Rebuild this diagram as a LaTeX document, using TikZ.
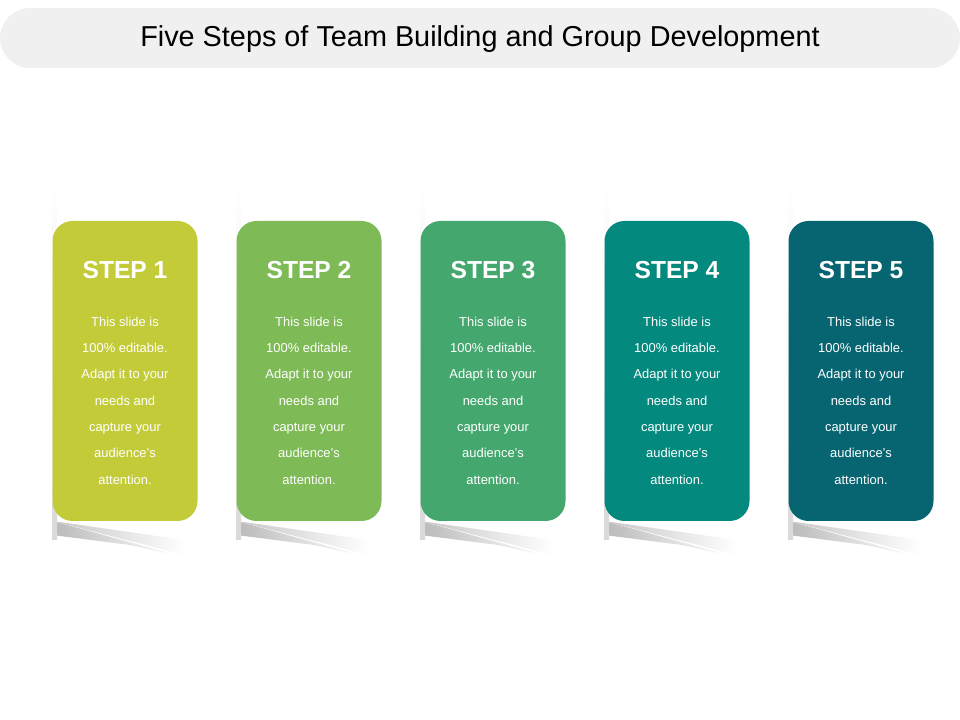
\documentclass[tikz,border=0pt]{standalone}
\usepackage{fontspec}
\setmainfont{Liberation Sans}
\definecolor{stepa}{HTML}{C3CC38}
\definecolor{stepb}{HTML}{7EBA55}
\definecolor{stepc}{HTML}{44A86E}
\definecolor{stepd}{HTML}{04897E}
\definecolor{stepe}{HTML}{076571}
\definecolor{titlebg}{HTML}{F0F0F0}
\tikzset{
  card/.style={rounded corners=20*0.025cm, minimum width=145*0.025cm, minimum height=300*0.025cm, inner sep=0pt},
  steptitle/.style={text=white, font=\fontsize{17.5}{20}\selectfont\bfseries},
  steptext/.style={text=white, align=center, font=\fontsize{9.2}{18.7}\selectfont}
}
\begin{document}
\begin{tikzpicture}[x=0.025cm,y=-0.025cm]
  \useasboundingbox (0,0) rectangle (960,720);
  \fill[titlebg] (0,8) [rounded corners=30*0.025cm] rectangle (960,68);
  \node (title) at (480,39) {\fontsize{20.5}{24}\selectfont Five Steps of Team Building and Group Development};
  \foreach \i/\c in {0/stepa,1/stepb,2/stepc,3/stepd,4/stepe}{
    \pgfmathsetmacro{\cx}{125+184*\i}
    % shadows
    \shade[left color=gray!45, right color=white] (\cx-72.5,521) -- (\cx+60,555) -- (\cx+60,540) -- (\cx-72.5,521) -- (\cx-72.5,545) -- cycle;
    \shade[left color=gray!55, right color=white] (\cx-72.5,521) -- (\cx+55,556) -- (\cx+5,545) -- (\cx-72.5,535) -- cycle;
    \shade[top color=white, bottom color=gray!30] (\cx-73,185) rectangle (\cx-68,540);
    \node[card, fill=\c] (card\i) at (\cx,371) {};
    \node[steptitle] (head\i) at (\cx,270) {STEP \pgfmathparse{int(\i+1)}\pgfmathresult};
    \node[steptext, anchor=north] (body\i) at (\cx,312) {This slide is\\100\% editable.\\Adapt it to your\\needs and\\capture your\\audience's\\attention.};
  }
\end{tikzpicture}
\end{document}
